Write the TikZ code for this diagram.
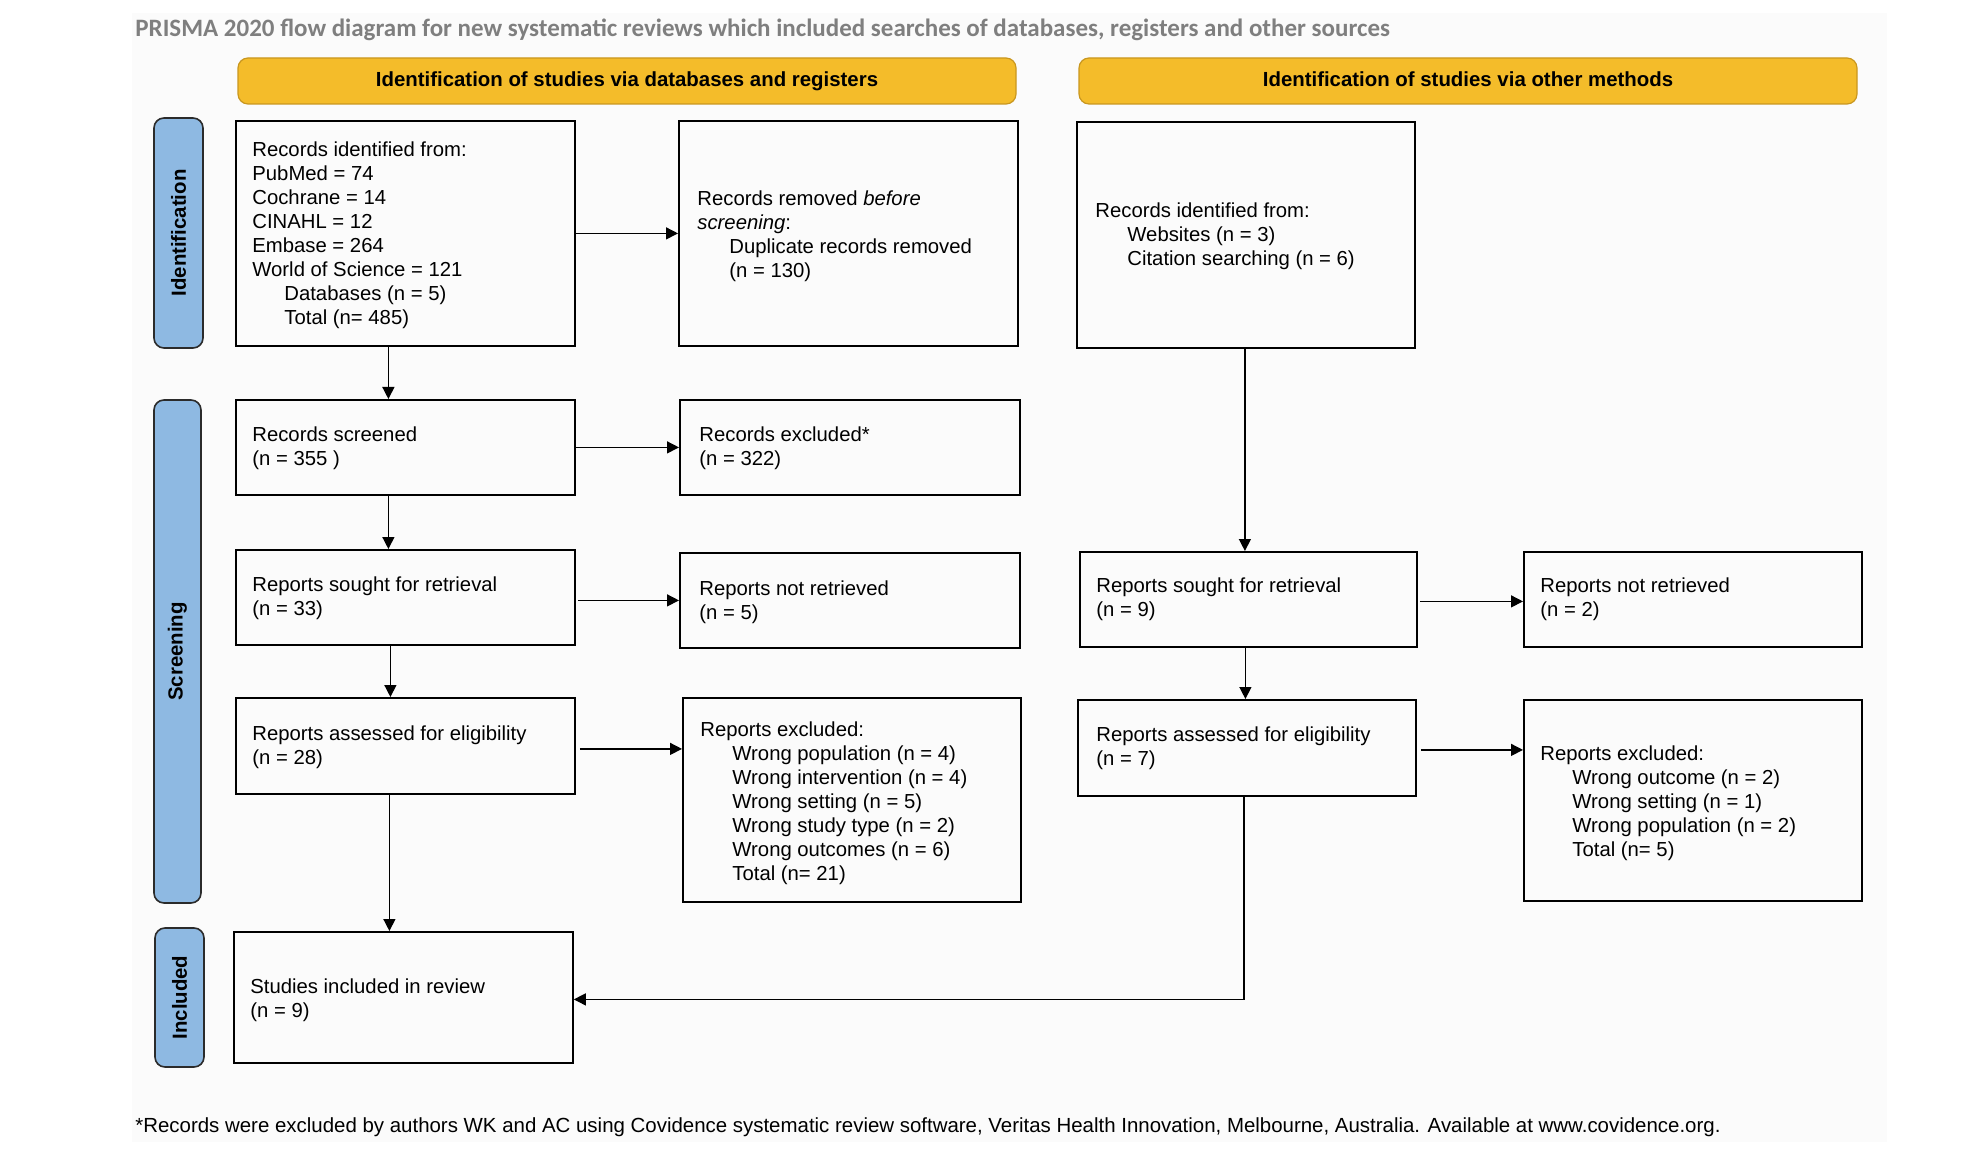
\documentclass[tikz,border=0pt]{standalone}
\usepackage{fontspec}
\setmainfont{Liberation Sans}
\newfontfamily\titlefont{Carlito}
\usetikzlibrary{arrows.meta,calc}
\definecolor{hdr}{HTML}{F4BC2A}
\definecolor{hdrb}{HTML}{C9971F}
\definecolor{side}{HTML}{8EB9E2}
\definecolor{sideb}{HTML}{2B2B2B}
\definecolor{ttl}{HTML}{7F7F7F}
\definecolor{bg}{HTML}{FBFBFB}
\newcommand{\ind}{\hspace*{16pt}}
\begin{document}
\begin{tikzpicture}[x=0.5pt,y=-0.5pt,
 box/.style={draw=black, line width=0.9pt, anchor=north west, inner sep=0pt},
 txt/.style={anchor=north west, inner sep=0pt, align=left, font=\fontsize{10.15}{12}\selectfont},
 hdrbox/.style={draw=hdrb, fill=hdr, rounded corners=5pt, line width=0.6pt, minimum width=389pt, minimum height=23pt, inner sep=0pt, text height=7.4pt, text depth=2pt, font=\bfseries\fontsize{10.2}{12}\selectfont},
 sidebox/.style={draw=sideb, fill=side, rounded corners=5pt, line width=0.8pt, inner sep=0pt},
 sidetxt/.style={rotate=90, inner sep=0pt, font=\bfseries\fontsize{10.2}{12}\selectfont},
 arr/.style={-{Triangle[length=6pt,width=6pt]}, line width=0.7pt}
]
\useasboundingbox (0,0) rectangle (1962,1154);
\fill[white] (0,0) rectangle (1962,1154);
\fill[bg] (132,13) rectangle (1887,1142);

% title
\node[anchor=west, inner sep=0pt, text=ttl, font=\titlefont\bfseries\fontsize{12.5}{14}\selectfont] (title) at (135,30)
 {PRISMA 2020 flow diagram for new systematic reviews which included searches of databases, registers and other sources};

% headers
\node[hdrbox] (h1) at (627,81) {Identification of studies via databases and registers};
\node[hdrbox] (h2) at (1468,81) {Identification of studies via other methods};

% side bars
\node[sidebox, minimum width=24.5pt, minimum height=115pt] (s1) at (178.5,233) {};
\node[sidetxt] (s1t) at (s1.center) {Identification};
\node[sidebox, minimum width=23.5pt, minimum height=251.5pt] (s2) at (177.5,651.5) {};
\node[sidetxt] (s2t) at (s2.center) {Screening};
\node[sidebox, minimum width=24.5pt, minimum height=69.5pt] (s3) at (179.5,997.5) {};
\node[sidetxt] (s3t) at (s3.center) {Included};

% boxes
\node[box, minimum width=169.5pt, minimum height=112.5pt] (A) at (235,120) {};
\node[box, minimum width=169.5pt, minimum height=112.5pt] (B) at (678,120) {};
\node[box, minimum width=169pt, minimum height=113pt] (C) at (1076,121) {};
\node[box, minimum width=169.5pt, minimum height=47.5pt] (D) at (235,399) {};
\node[box, minimum width=170pt, minimum height=47.5pt] (E) at (679,399) {};
\node[box, minimum width=169.5pt, minimum height=47.5pt] (F) at (235,549) {};
\node[box, minimum width=170pt, minimum height=47.5pt] (G) at (679,552) {};
\node[box, minimum width=168.5pt, minimum height=47.5pt] (H) at (1079,551) {};
\node[box, minimum width=169pt, minimum height=47.5pt] (I) at (1523,551) {};
\node[box, minimum width=169.5pt, minimum height=48pt] (J) at (235,697) {};
\node[box, minimum width=169pt, minimum height=102pt] (K) at (682,697) {};
\node[box, minimum width=169pt, minimum height=48pt] (L) at (1077,699) {};
\node[box, minimum width=169pt, minimum height=100.5pt] (M) at (1523,699) {};
\node[box, minimum width=169.5pt, minimum height=65.5pt] (N) at (233,931) {};

% texts
\node[txt] (At) at (252,141) {Records identified from:\\PubMed = 74\\Cochrane = 14\\CINAHL = 12\\Embase = 264\\World of Science = 121\\\ind Databases (n = 5)\\\ind Total (n= 485)};
\node[txt] (Bt) at (697,190) {Records removed \textit{before}\\\textit{screening}:\\\ind Duplicate records removed\\\ind (n = 130)};
\node[txt] (Ct) at (1095,202) {Records identified from:\\\ind Websites (n = 3)\\\ind Citation searching (n = 6)};
\node[txt] (Dt) at (252,426) {Records screened\\(n = 355 )};
\node[txt] (Et) at (699,426) {Records excluded*\\(n = 322)};
\node[txt] (Ft) at (252,576) {Reports sought for retrieval\\(n = 33)};
\node[txt] (Gt) at (699,580) {Reports not retrieved\\(n = 5)};
\node[txt] (Ht) at (1096,577) {Reports sought for retrieval\\(n = 9)};
\node[txt] (It) at (1540,577) {Reports not retrieved\\(n = 2)};
\node[txt] (Jt) at (252,725) {Reports assessed for eligibility\\(n = 28)};
\node[txt] (Kt) at (700,721) {Reports excluded:\\\ind Wrong population (n = 4)\\\ind Wrong intervention (n = 4)\\\ind Wrong setting (n = 5)\\\ind Wrong study type (n = 2)\\\ind Wrong outcomes (n = 6)\\\ind Total (n= 21)};
\node[txt] (Lt) at (1096,726) {Reports assessed for eligibility\\(n = 7)};
\node[txt] (Mt) at (1540,745) {Reports excluded:\\\ind Wrong outcome (n = 2)\\\ind Wrong setting (n = 1)\\\ind Wrong population (n = 2)\\\ind Total (n= 5)};
\node[txt] (Nt) at (250,978) {Studies included in review\\(n = 9)};

% footnote
\node[anchor=west, inner sep=0pt, font=\fontsize{10.22}{12}\selectfont] (foot) at (135,1127)
 {*Records were excluded by authors WK and AC using Covidence systematic review software, Veritas Health Innovation, Melbourne, Australia. Available at www.covidence.org.};

% connectors
\draw[arr] (A.east) -- (B.west);
\draw[arr] ($(A.south)+(-17,0)$) coordinate (a1) -- (a1 |- D.north);
\draw[arr] (D.east) -- (E.west);
\draw[arr] ($(D.south)+(-17,0)$) coordinate (d1) -- (d1 |- F.north);
\draw[arr] ($(G.west -| F.east)+(2,0)$) -- (G.west);
\draw[arr] ($(F.south)+(-15,0)$) coordinate (f1) -- (f1 |- J.north);
\draw[arr] ($(J.east)+(4,3)$) coordinate (j2) -- (j2 -| K.west);
\draw[arr] ($(J.south)+(-16,0)$) coordinate (j1) -- (j1 |- N.north);
\draw[arr] ($(C.south)+(-1,0)$) coordinate (c1) -- (c1 |- H.north);
\draw[arr] ($(H.east)+(2,2)$) coordinate (h2) -- (h2 -| I.west);
\draw[arr] ($(H.south)+(-3,0)$) coordinate (h1) -- (h1 |- L.north);
\draw[arr] ($(L.east)+(4,2)$) coordinate (l2) -- (l2 -| M.west);
\draw[arr] ($(L.south)+(-3,0)$) coordinate (l1) |- ($(N.east)+(0,2)$);
\end{tikzpicture}
\end{document}
